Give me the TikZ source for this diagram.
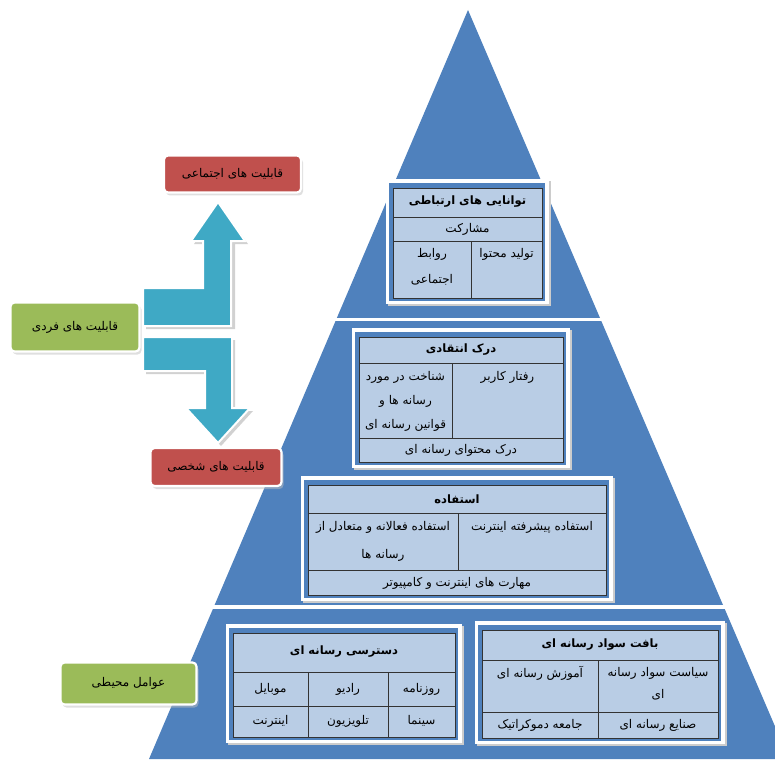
\documentclass[tikz,border=0pt]{standalone}
\usepackage{fontspec}
\newfontfamily\fa[Script=Arabic]{DejaVu Sans}
\TeXXeTstate=1
\usetikzlibrary{shadows}
\definecolor{pyr}{HTML}{4F81BD}
\definecolor{cell}{HTML}{B9CDE5}
\definecolor{redb}{HTML}{C0504D}
\definecolor{greenb}{HTML}{9BBB59}
\definecolor{arr}{HTML}{3FA9C5}
\newcommand\rtltxt[1]{\beginR #1\endR}
% table frame: #1,#2 = top-left of table, #3,#4 = bottom-right of table
\newcommand\tframe[4]{%
  \fill[black!20] (#1-5,#2-7) rectangle (#3+9,#4+8);
  \fill[white] (#1-7,#2-9) rectangle (#3+7,#4+6);
  \fill[pyr] (#1-4,#2-5) rectangle (#3+3,#4+3);
  \filldraw[fill=cell, draw=black!80, line width=0.8pt] (#1,#2) rectangle (#3,#4);}
\tikzset{
  txt/.style={font=\fa\fontsize{12}{14}\selectfont, text=black, inner sep=0pt},
  ttl/.style={font=\fa\bfseries\fontsize{11.5}{13}\selectfont, text=black, inner sep=0pt},
  tline/.style={draw=black!80, line width=0.8pt},
  lbl/.style={rounded corners=4pt, draw=white, line width=2.2pt,
    font=\fa\fontsize{12}{14}\selectfont, text=black,
    drop shadow={shadow xshift=2pt, shadow yshift=-3pt, fill=black!25}},
  arrow shape/.style={fill=arr, draw=white, line width=2pt, line join=miter},
  arrow shadow/.style={fill=black!18}
}
\begin{document}
\begin{tikzpicture}[x=1pt,y=-1pt]
\useasboundingbox (0,0) rectangle (775,759);
\clip (0,0) rectangle (775,759);

% pyramid
\fill[pyr] (468,10) -- (149,759) -- (789,759) -- cycle;
\fill[white] (0,317.5) rectangle (775,320.5);
\fill[white] (0,605) rectangle (775,608.5);

% ---------- box 1
\tframe{393}{188}{542}{298}
\draw[tline] (393,217) -- (542,217);
\draw[tline] (393,241) -- (542,241);
\draw[tline] (471,241) -- (471,298);
\node[ttl] (b1t) at (467.5,202) {\rtltxt{توانایی های ارتباطی}};
\node[txt] (b1a) at (467.5,229) {\rtltxt{مشارکت}};
\node[txt] (b1b) at (506.5,254) {\rtltxt{تولید محتوا}};
\node[txt] (b1c) at (432,254) {\rtltxt{روابط}};
\node[txt] (b1d) at (432,280) {\rtltxt{اجتماعی}};

% ---------- box 2
\tframe{359}{337}{563}{462}
\draw[tline] (359,363) -- (563,363);
\draw[tline] (359,438) -- (563,438);
\draw[tline] (452,363) -- (452,438);
\node[ttl] (b2t) at (461,350) {\rtltxt{درک انتقادی}};
\node[txt] (b2a) at (507.5,377) {\rtltxt{رفتار کاربر}};
\node[txt] (b2b) at (405.5,377) {\rtltxt{شناخت در مورد}};
\node[txt] (b2c) at (405.5,401) {\rtltxt{رسانه ها و}};
\node[txt] (b2d) at (405.5,425) {\rtltxt{قوانین رسانه ای}};
\node[txt] (b2e) at (461,450) {\rtltxt{درک محتوای رسانه ای}};

% ---------- box 3
\tframe{308}{485}{606}{595}
\draw[tline] (308,513) -- (606,513);
\draw[tline] (308,570) -- (606,570);
\draw[tline] (458,513) -- (458,570);
\node[ttl] (b3t) at (457,499) {\rtltxt{استفاده}};
\node[txt] (b3a) at (532,527) {\rtltxt{استفاده پیشرفته اینترنت}};
\node[txt] (b3b) at (383,527) {\rtltxt{استفاده فعالانه و متعادل از}};
\node[txt] (b3c) at (383,555) {\rtltxt{رسانه ها}};
\node[txt] (b3d) at (457,583) {\rtltxt{مهارت های اینترنت و کامپیوتر}};

% ---------- box 4
\tframe{233}{633}{455}{737}
\draw[tline] (233,672) -- (455,672);
\draw[tline] (233,706) -- (455,706);
\draw[tline] (308,672) -- (308,737);
\draw[tline] (388,672) -- (388,737);
\node[ttl] (b4t) at (344,652) {\rtltxt{دسترسی رسانه ای}};
\node[txt] (b4a) at (421.5,689) {\rtltxt{روزنامه}};
\node[txt] (b4b) at (348,689) {\rtltxt{رادیو}};
\node[txt] (b4c) at (270.5,689) {\rtltxt{موبایل}};
\node[txt] (b4d) at (421.5,721) {\rtltxt{سینما}};
\node[txt] (b4e) at (348,721) {\rtltxt{تلویزیون}};
\node[txt] (b4f) at (270.5,721) {\rtltxt{اینترنت}};

% ---------- box 5
\tframe{482}{630}{718}{738}
\draw[tline] (482,660) -- (718,660);
\draw[tline] (482,712) -- (718,712);
\draw[tline] (598,660) -- (598,738);
\node[ttl] (b5t) at (600,645) {\rtltxt{بافت سواد رسانه ای}};
\node[txt] (b5a) at (658,673) {\rtltxt{سیاست سواد رسانه}};
\node[txt] (b5b) at (658,695) {\rtltxt{ای}};
\node[txt] (b5c) at (540,673) {\rtltxt{آموزش رسانه ای}};
\node[txt] (b5d) at (658,725) {\rtltxt{صنایع رسانه ای}};
\node[txt] (b5e) at (540,725) {\rtltxt{جامعه دموکراتیک}};

% ---------- arrows
\fill[arrow shadow] (146,329) -- (235,329) -- (235,244) -- (248,244) -- (221,206) -- (194,244) -- (206,244) -- (206,291) -- (146,291) -- cycle;
\fill[arrow shadow] (146,340) -- (235,340) -- (235,411) -- (253,411) -- (221,446) -- (189,411) -- (208,411) -- (208,374) -- (146,374) -- cycle;
\filldraw[arrow shape] (143,326) -- (231,326) -- (231,241) -- (245,241) -- (218,202) -- (191,241) -- (203,241) -- (203,288) -- (143,288) -- cycle;
\filldraw[arrow shape] (143,337) -- (232,337) -- (232,408) -- (250,408) -- (218,443) -- (186,408) -- (205,408) -- (205,371) -- (143,371) -- cycle;

% ---------- side labels
\node[lbl, fill=redb, minimum width=137pt, minimum height=37pt] (soc) at (232.5,174) {\rtltxt{قابلیت های اجتماعی}};
\node[lbl, fill=greenb, minimum width=129pt, minimum height=49pt] (ind) at (75,327) {\rtltxt{قابلیت های فردی}};
\node[lbl, fill=redb, minimum width=131pt, minimum height=38pt] (per) at (216,467) {\rtltxt{قابلیت های شخصی}};
\node[lbl, fill=greenb, minimum width=136pt, minimum height=42pt] (env) at (128.5,683.5) {\rtltxt{عوامل محیطی}};
\end{tikzpicture}
\end{document}
